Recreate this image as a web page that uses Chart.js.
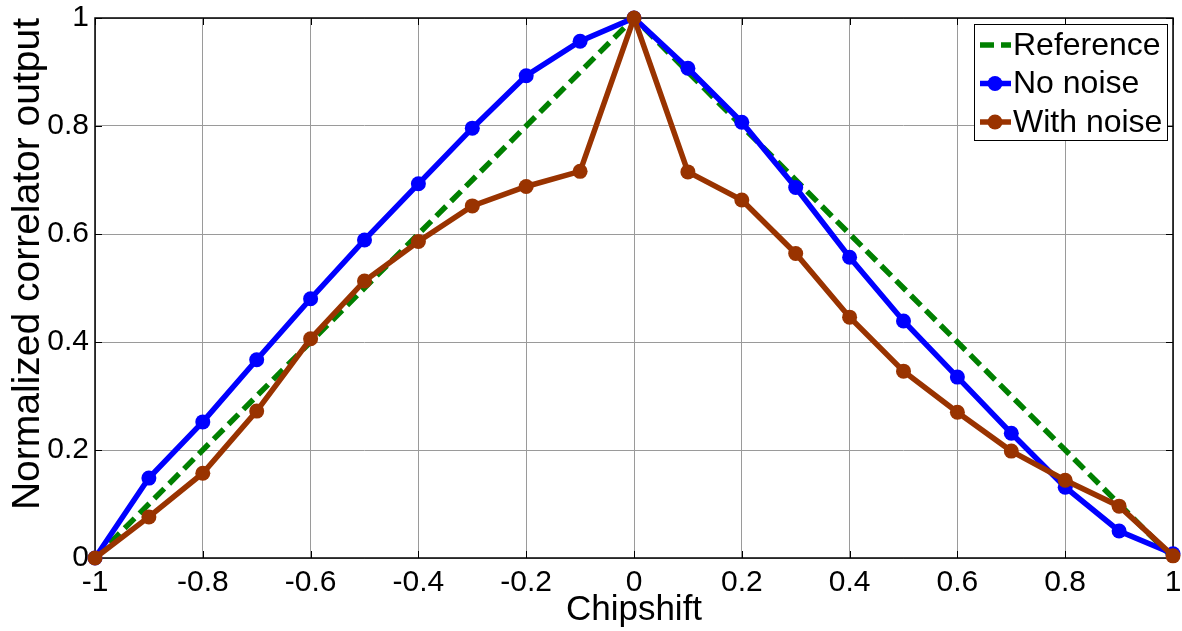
<!DOCTYPE html>
<html>
<head>
<meta charset="utf-8">
<script src="https://cdn.jsdelivr.net/npm/chart.js@4"></script>
<style>
  html, body { margin: 0; padding: 0; background: #fff; }
  canvas { display: block; }
</style>
</head>
<body>
<canvas id="corrChart" width="1182" height="631"></canvas>
<script>
// chip shifts (x) and the three curves
const chipshift = [-1, -0.9, -0.8, -0.7, -0.6, -0.5, -0.4, -0.3, -0.2, -0.1, 0,
                   0.1, 0.2, 0.3, 0.4, 0.5, 0.6, 0.7, 0.8, 0.9, 1];
const reference = [0, 0.1, 0.2, 0.3, 0.4, 0.5, 0.6, 0.7, 0.8, 0.9, 1,
                   0.9, 0.8, 0.7, 0.6, 0.5, 0.4, 0.3, 0.2, 0.1, 0];
const noNoise = [0, 0.148, 0.252, 0.367, 0.480, 0.589, 0.693, 0.796, 0.893, 0.957, 1,
                 0.907, 0.807, 0.686, 0.557, 0.439, 0.335, 0.231, 0.131, 0.050, 0.008];
const withNoise = [0, 0.076, 0.157, 0.272, 0.406, 0.513, 0.586, 0.652, 0.688, 0.716, 1,
                   0.715, 0.663, 0.564, 0.446, 0.346, 0.270, 0.198, 0.144, 0.096, 0.004];

const xTicks = [-1, -0.8, -0.6, -0.4, -0.2, 0, 0.2, 0.4, 0.6, 0.8, 1];
const yTicks = [0, 0.2, 0.4, 0.6, 0.8, 1];

const FONT = "'Liberation Sans', Arial, sans-serif";

function pts(ys) {
  return chipshift.map((x, i) => ({ x: x, y: ys[i] }));
}

// matlab style box, inward ticks
const framePlugin = {
  id: 'frame',
  beforeDatasetsDraw(chart) {
    const { ctx, chartArea: a, scales } = chart;
    ctx.save();
    ctx.strokeStyle = '#000';
    ctx.lineWidth = 1;
    ctx.beginPath();
    xTicks.forEach(v => {
      const px = Math.round(scales.x.getPixelForValue(v)) + 0.5;
      ctx.moveTo(px, a.bottom); ctx.lineTo(px, a.bottom - 7);
      ctx.moveTo(px, a.top); ctx.lineTo(px, a.top + 7);
    });
    yTicks.forEach(v => {
      const py = Math.round(scales.y.getPixelForValue(v)) + 0.5;
      ctx.moveTo(a.left, py); ctx.lineTo(a.left + 7, py);
      ctx.moveTo(a.right, py); ctx.lineTo(a.right - 7, py);
    });
    ctx.stroke();
    ctx.lineWidth = 1.5;
    ctx.strokeRect(a.left, a.top, a.right - a.left, a.bottom - a.top);
    ctx.restore();
  }
};

const legendPlugin = {
  id: 'boxLegend',
  afterDatasetsDraw(chart) {
    const { ctx, chartArea: a } = chart;
    const w = 193, h = 116;
    const x0 = a.right - 6 - w, y0 = a.top + 6;
    ctx.save();
    ctx.fillStyle = '#fff';
    ctx.fillRect(x0, y0, w, h);
    ctx.strokeStyle = '#000';
    ctx.lineWidth = 1;
    ctx.strokeRect(x0 + 0.5, y0 + 0.5, w, h);
    ctx.font = '32px ' + FONT;
    ctx.textBaseline = 'middle';
    chart.data.datasets.forEach((ds, i) => {
      const cy = y0 + 21 + i * 38.5;
      ctx.strokeStyle = ds.borderColor;
      ctx.lineWidth = ds.borderWidth;
      ctx.setLineDash(ds.borderDash || []);
      ctx.beginPath();
      ctx.moveTo(x0 + 6, cy); ctx.lineTo(x0 + 37, cy);
      ctx.stroke();
      ctx.setLineDash([]);
      if (ds.pointRadius > 0) {
        ctx.fillStyle = ds.borderColor;
        ctx.beginPath();
        ctx.arc(x0 + 21, cy, ds.pointRadius, 0, Math.PI * 2);
        ctx.fill();
      }
      ctx.fillStyle = '#000';
      ctx.fillText(ds.label, x0 + 39, cy + 1);
    });
    ctx.restore();
  }
};

new Chart(document.getElementById('corrChart').getContext('2d'), {
  type: 'line',
  data: {
    datasets: [
      {
        label: 'Reference',
        data: pts(reference),
        borderColor: '#008000',
        borderWidth: 5.5,
        borderDash: [14, 7],
        pointRadius: 0,
        order: 3,
        clip: false
      },
      {
        label: 'No noise',
        data: pts(noNoise),
        borderColor: '#0000ff',
        backgroundColor: '#0000ff',
        borderWidth: 5.5,
        pointRadius: 7.5,
        pointBorderWidth: 0,
        order: 2,
        clip: false
      },
      {
        label: 'With noise',
        data: pts(withNoise),
        borderColor: '#993300',
        backgroundColor: '#993300',
        borderWidth: 5.5,
        pointRadius: 7.5,
        pointBorderWidth: 0,
        order: 1,
        clip: false
      }
    ]
  },
  options: {
    responsive: false,
    animation: false,
    layout: { padding: { top: 18, right: 9, left: 0, bottom: 0 } },
    scales: {
      x: {
        type: 'linear',
        min: -1,
        max: 1,
        afterFit(scale) {
          scale.height = 73;
          scale.paddingLeft = 0;
          scale.paddingRight = 0;
        },
        afterBuildTicks(scale) { scale.ticks = xTicks.map(v => ({ value: v })); },
        grid: { color: '#9a9a9a', lineWidth: 1, drawTicks: false },
        border: { display: false },
        ticks: {
          padding: 7,
          color: '#000',
          maxRotation: 0,
          font: { family: FONT, size: 30 },
          callback: v => String(v)
        },
        title: {
          display: true,
          text: 'Chipshift',
          color: '#000',
          font: { family: FONT, size: 35 },
          padding: { top: 0, bottom: 0 }
        }
      },
      y: {
        min: 0,
        max: 1,
        afterFit(scale) {
          scale.width = 95;
          scale.paddingTop = 0;
          scale.paddingBottom = 0;
        },
        afterBuildTicks(scale) { scale.ticks = yTicks.map(v => ({ value: v })); },
        grid: { color: '#9a9a9a', lineWidth: 1, drawTicks: false },
        border: { display: false },
        ticks: {
          padding: 6,
          color: '#000',
          font: { family: FONT, size: 30 },
          callback: v => String(v)
        },
        title: {
          display: true,
          text: 'Normalized correlator output',
          align: 'end',
          color: '#000',
          font: { family: FONT, size: 39 },
          padding: { top: 5, bottom: 0 }
        }
      }
    },
    plugins: {
      legend: { display: false },
      tooltip: { enabled: false }
    }
  },
  plugins: [framePlugin, legendPlugin]
});
</script>
</body>
</html>
